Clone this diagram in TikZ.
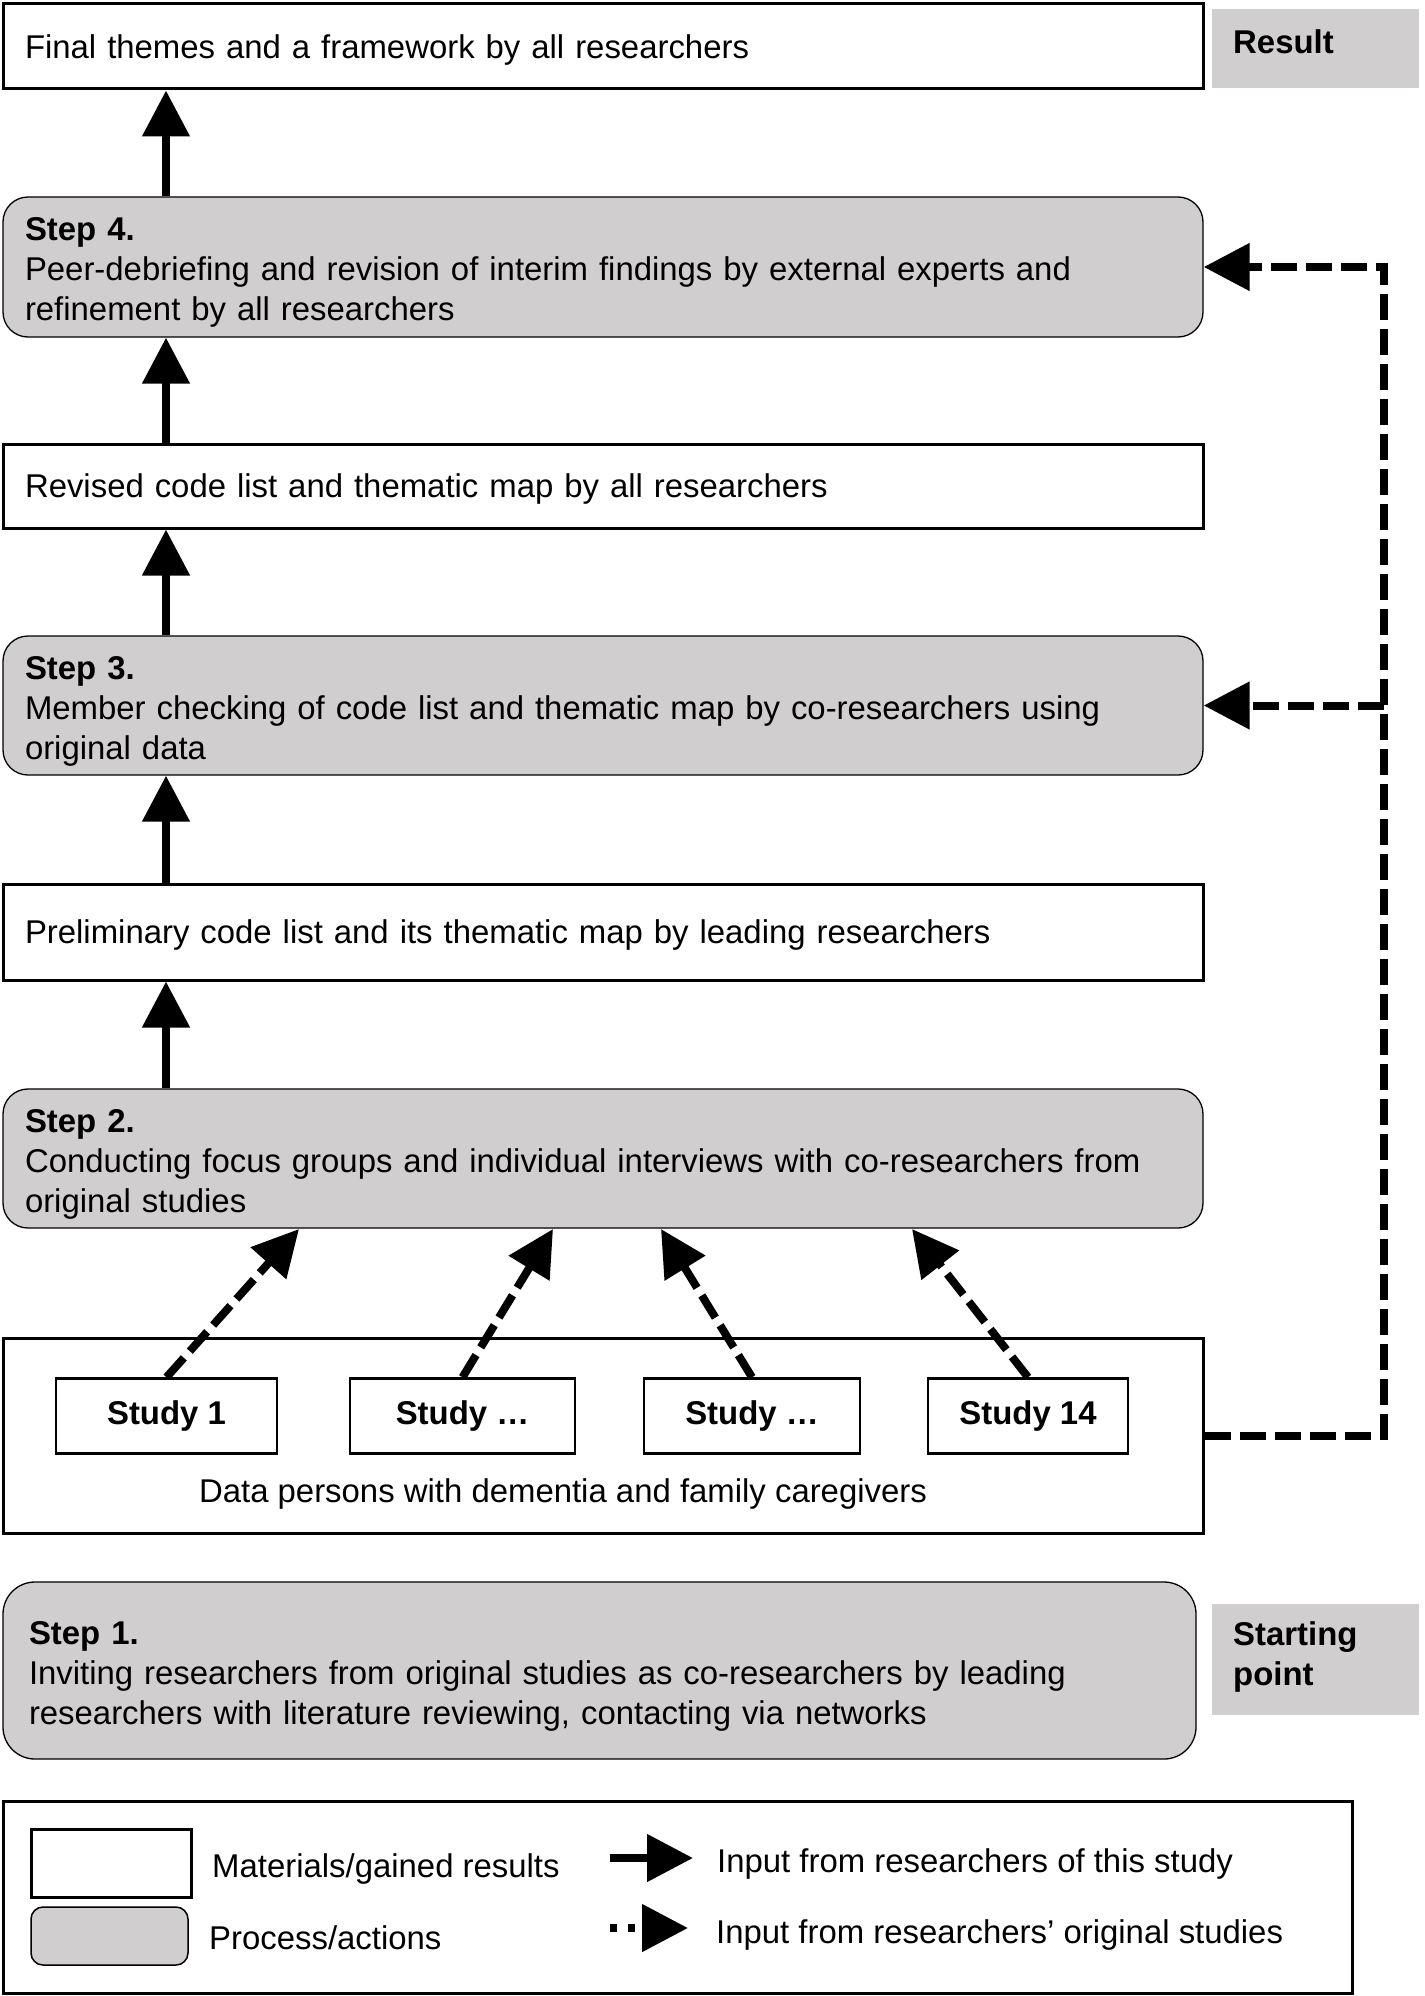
\documentclass[tikz,border=0pt]{standalone}
\usepackage{fontspec}
\setmainfont{Liberation Sans}
\usetikzlibrary{arrows.meta}
\definecolor{boxgray}{RGB}{208,206,207}
\newcommand\firststrut{\rule{0pt}{34pt}}
\begin{document}
\begin{tikzpicture}[x=1pt,y=-1pt,
  every node/.style={font=\fontsize{32.9}{40}\selectfont, text=black},
  matbox/.style={draw, line width=3pt, fill=white, minimum width=1200pt, inner xsep=22pt, inner ysep=0pt, text width=1156pt, align=left, text depth=0pt},
  stepbox/.style={draw, line width=1.3pt, fill=boxgray, rounded corners=25pt, minimum width=1200pt, inner xsep=22pt, inner ysep=0pt, text width=1156pt, align=left},
  lblbox/.style={fill=boxgray, minimum width=207pt, inner sep=0pt},
  lbltext/.style={font=\fontsize{32.9}{40}\selectfont\bfseries, inner sep=0pt, align=left},
  studybox/.style={draw, line width=2.5pt, fill=white, minimum height=75pt, inner sep=0pt, font=\fontsize{32.9}{40}\selectfont\bfseries},
  plain/.style={inner sep=0pt},
  solidarrow/.style={line width=8pt, -{Triangle[length=46pt,width=46pt]}},
  dasharrow/.style={line width=8pt, dash pattern=on 26pt off 9pt, -{Triangle[length=46pt,width=46pt]}},
  dotarrow/.style={line width=8pt, dash pattern=on 7pt off 11pt, -{Triangle[length=46pt,width=46pt]}}
]
\useasboundingbox (0,0) rectangle (1424,1996);

% main column
\node[matbox, minimum height=85pt] (fin) at (603,46.5) {Final themes and a framework by all researchers};
\node[stepbox, minimum height=140pt] (s4) at (603,267) {\textbf{Step 4.}\firststrut\\Peer-debriefing and revision of interim findings by external experts and\\refinement by all researchers};
\node[matbox, minimum height=84pt] (rev) at (603,486) {Revised code list and thematic map by all researchers};
\node[stepbox, minimum height=139pt] (s3) at (603,705.5) {\textbf{Step 3.}\firststrut\\Member checking of code list and thematic map by co-researchers using\\original data};
\node[matbox, minimum height=96pt] (pre) at (603,932) {Preliminary code list and its thematic map by leading researchers};
\node[stepbox, minimum height=139pt] (s2) at (603,1158.5) {\textbf{Step 2.}\firststrut\\Conducting focus groups and individual interviews with co-researchers from\\original studies};
\node[matbox, minimum height=195pt] (data) at (603,1435.5) {};
\node[plain, anchor=base] (datat) at (563,1502) {Data persons with dementia and family caregivers};

\node[studybox, minimum width=221pt] (st1) at (166.5,1416) {Study 1};
\node[studybox, minimum width=225pt] (st2) at (462.5,1416) {Study …};
\node[studybox, minimum width=216pt] (st3) at (752,1416) {Study …};
\node[studybox, minimum width=200pt] (st4) at (1028,1416) {Study 14};

\node[stepbox, minimum width=1193pt, text width=1141pt, inner xsep=26pt, rounded corners=32pt, minimum height=177pt] (s1) at (599.5,1670.5) {\textbf{Step 1.}\firststrut\\Inviting researchers from original studies as co-researchers by leading\\researchers with literature reviewing, contacting via networks};

% side labels
\node[lblbox, minimum height=79pt] (resb) at (1315.5,48.5) {};
\node[lbltext, anchor=base west] (rest) at (1233,54) {Result};
\node[lblbox, minimum height=111pt] (stab) at (1315.5,1659.5) {};
\node[lbltext, anchor=north west] (stat) at (1233,1621) {Starting\\point};

% solid arrows
\coordinate (ax) at (166,0);
\draw[solidarrow] (s4.north -| ax) -- (fin.south -| ax);
\draw[solidarrow] (rev.north -| ax) -- (s4.south -| ax);
\draw[solidarrow] (s3.north -| ax) -- (rev.south -| ax);
\draw[solidarrow] (pre.north -| ax) -- (s3.south -| ax);
\draw[solidarrow] (s2.north -| ax) -- (pre.south -| ax);

% dashed arrows from studies
\coordinate (t1) at (299,1229);
\coordinate (t2) at (553,1229);
\coordinate (t3) at (661,1229);
\coordinate (t4) at (912,1229);
\draw[dasharrow] (st1.north) -- (t1);
\draw[dasharrow] (st2.north) -- (t2);
\draw[dasharrow] (st3.north) -- (t3);
\draw[dasharrow] (st4.north) -- (t4);

% feedback
\coordinate (fb) at (1384,0);
\draw[dasharrow] (data.east) -- (data.east -| fb) |- (s4.east);
\draw[dasharrow] (s3.east -| fb) -- (s3.east);

% legend
\node[draw, line width=3pt, minimum width=1349pt, minimum height=192pt, inner sep=0pt] (leg) at (677.5,1897) {};
\node[draw, line width=3pt, fill=white, minimum width=160pt, minimum height=68pt, inner sep=0pt] (lw) at (111,1863) {};
\node[draw, line width=1.5pt, fill=boxgray, rounded corners=12pt, minimum width=157pt, minimum height=58pt, inner sep=0pt] (lg) at (109.5,1936) {};
\node[plain, anchor=base west] (lwt) at (212,1877) {Materials/gained results};
\node[plain, anchor=base west] (lgt) at (209,1949) {Process/actions};
\node[plain, anchor=base west] (lst) at (717,1872) {Input from researchers of this study};
\node[plain, anchor=base west] (ldt) at (716,1943) {Input from researchers’ original studies};
\coordinate (l1a) at (610,1858);
\coordinate (l1b) at (693,1858);
\coordinate (l2a) at (610,1928);
\coordinate (l2b) at (688,1928);
\draw[solidarrow] (l1a) -- (l1b);
\draw[dotarrow] (l2a) -- (l2b);
\end{tikzpicture}
\end{document}
